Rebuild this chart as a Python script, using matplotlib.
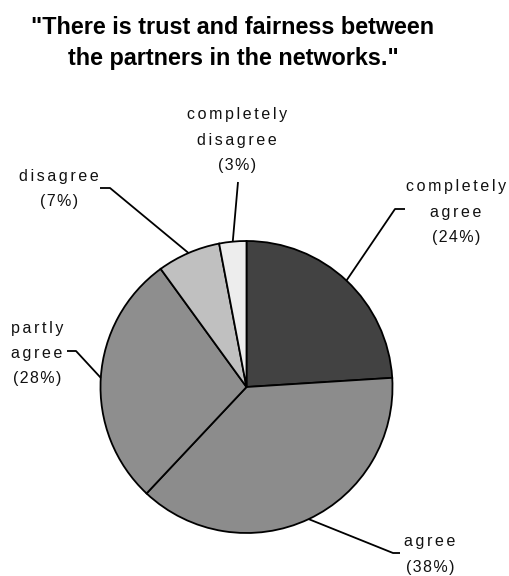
import numpy as np
import matplotlib
matplotlib.use("Agg")
import matplotlib.pyplot as plt

plt.rcParams['font.family'] = ['Liberation Sans', 'DejaVu Sans']

# Data
labels = ['completely\nagree', 'agree', 'partly\nagree', 'disagree', 'completely\ndisagree']
shares = [24, 38, 28, 7, 3]
colors = ['#424242', '#8c8c8c', '#8e8e8e', '#c0c0c0', '#ededed']
title = '"There is trust and fairness between\nthe partners in the networks."'

W, H = 510, 576
fig = plt.figure(figsize=(W / 100, H / 100), dpi=100)
ax = fig.add_axes([0, 0, 1, 1])

cx, cy, r = 246.5, 387, 146

# pie drawn on a flipped y axis -> go counterclockwise in screen to get clockwise
wedges, _ = ax.pie(shares, colors=colors, startangle=-90, counterclock=True,
                   center=(cx, cy), radius=r, frame=True,
                   wedgeprops=dict(edgecolor='black', linewidth=1.3))
ax.set_xlim(0, W)
ax.set_ylim(H, 0)
ax.set_aspect('auto')
ax.axis('off')


def spaced(s, gap):
    return '\n'.join(gap.join(line) for line in s.split('\n'))


# label placement: (elbow, line end, text x, text y)
layout = [
    ((395, 209), (405, 209), 456, 212),
    ((393, 553), (400, 553), 430, 554.5),
    ((76, 351), (67, 351), 37, 353.5),
    ((110, 188), (100, 188), 59, 189),
    ((238, 182), None, 237, 140),
]

start = 90.0
for lab, val, (elbow, end, tx, ty) in zip(labels, shares, layout):
    mid = np.deg2rad(start - val * 3.6 / 2)
    start -= val * 3.6
    px, py = cx + r * np.cos(mid), cy - r * np.sin(mid)
    xs, ys = [px, elbow[0]], [py, elbow[1]]
    if end is not None:
        xs.append(end[0])
        ys.append(end[1])
    ax.plot(xs, ys, color='black', lw=1.3, solid_capstyle='butt')
    txt = spaced(lab, '\u2006') + '\n' + spaced('(%d%%)' % val, '\u200a')
    ax.text(tx, ty, txt, ha='center', va='center',
            fontsize=11.5, linespacing=1.85, color='#111111')

ax.text(233, 43, title, ha='center', va='center', fontsize=16.8,
        fontweight='bold', linespacing=1.4)

fig.savefig('out.png', dpi=100)
